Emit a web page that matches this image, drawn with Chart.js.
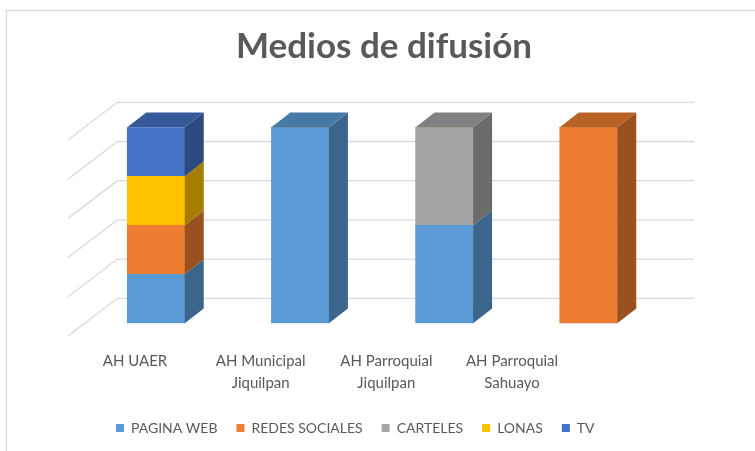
<!DOCTYPE html>
<html><head><meta charset="utf-8">
<script src="https://cdn.jsdelivr.net/npm/chart.js@4.4.1/dist/chart.umd.min.js"></script>
<style>html,body{margin:0;padding:0;background:#fff;} #wrap{width:755px;height:451px;}</style>
</head><body><div id="wrap"><canvas id="c" width="755" height="451"></canvas></div>
<script>
// ---- data ----
const chartTitle = 'Medios de difusión';
const categories = [['AH UAER'], ['AH Municipal', 'Jiquilpan'], ['AH Parroquial', 'Jiquilpan'], ['AH Parroquial', 'Sahuayo']];
const seriesNames = ['PAGINA WEB', 'REDES SOCIALES', 'CARTELES', 'LONAS', 'TV'];
const paginaWeb = [25, 100, 50, 0];
const redesSociales = [25, 0, 0, 100];
const carteles = [0, 0, 50, 0];
const lonas = [25, 0, 0, 0];
const tv = [25, 0, 0, 0];
const yTickValues = [0, 20, 40, 60, 80, 100];
const seriesColors = ['#5B9BD5', '#ED7D31', '#A5A5A5', '#FFC000', '#4472C4'];

// ---- 3D look ----
const BAR_DEPTH = {dx: 19, dy: -14.7};
const WALL = {dx: 33.5, dy: -25};
const FLOOR_FRONT = {dx: -16, dy: 12.7};
const GRID_COLOR = '#D9D9D9';
const TEXT_COLOR = '#595959';

function shade(hex, f) {
  const n = parseInt(hex.slice(1), 16);
  const r = Math.round(((n >> 16) & 255) * f), g = Math.round(((n >> 8) & 255) * f), b = Math.round((n & 255) * f);
  return 'rgb(' + r + ',' + g + ',' + b + ')';
}

const allSeries = [paginaWeb, redesSociales, carteles, lonas, tv];
const datasets = allSeries.map((vals, d) => ({
  label: seriesNames[d],
  data: vals.map((v, i) => ({x: i, y: v})),
  backgroundColor: seriesColors[d],
  borderWidth: 0,
  barThickness: 57.5
}));

const bgPlugin = {
  id: 'bg',
  beforeDraw(chart) {
    const ctx = chart.ctx;
    ctx.save();
    ctx.fillStyle = '#fff';
    ctx.fillRect(0, 0, chart.width, chart.height);
    ctx.strokeStyle = GRID_COLOR;
    ctx.lineWidth = 1.3;
    ctx.strokeRect(6.5, 10.5, 900, 600);
    ctx.restore();
  }
};

const wallPlugin = {
  id: 'wall',
  beforeDatasetsDraw(chart) {
    const ctx = chart.ctx, xs = chart.scales.x, ys = chart.scales.y;
    const xl = xs.getPixelForValue(-0.5), xr = xs.getPixelForValue(categories.length - 0.5);
    ctx.save();
    ctx.strokeStyle = GRID_COLOR;
    ctx.lineWidth = 1.3;
    ys.ticks.forEach(t => {
      const y = ys.getPixelForValue(t.value);
      ctx.beginPath();
      ctx.moveTo(xl + FLOOR_FRONT.dx, y + FLOOR_FRONT.dy);
      ctx.lineTo(xl + WALL.dx, y + WALL.dy);
      ctx.lineTo(xr + WALL.dx, y + WALL.dy);
      ctx.stroke();
    });
    ctx.restore();
  }
};

const depthPlugin = {
  id: 'depth',
  afterDatasetsDraw(chart) {
    const ctx = chart.ctx;
    ctx.save();
    categories.forEach((c, i) => {
      let top = -1;
      allSeries.forEach((vals, d) => { if (vals[i] > 0) top = d; });
      allSeries.forEach((vals, d) => {
        if (!(vals[i] > 0)) return;
        const el = chart.getDatasetMeta(d).data[i];
        const p = el.getProps(['x', 'y', 'base', 'width'], true);
        const x0 = p.x - p.width / 2, x1 = p.x + p.width / 2;
        const yt = Math.min(p.y, p.base), yb = Math.max(p.y, p.base);
        ctx.fillStyle = shade(seriesColors[d], 0.65);
        ctx.beginPath();
        ctx.moveTo(x1, yt);
        ctx.lineTo(x1 + BAR_DEPTH.dx, yt + BAR_DEPTH.dy);
        ctx.lineTo(x1 + BAR_DEPTH.dx, yb + BAR_DEPTH.dy);
        ctx.lineTo(x1, yb);
        ctx.closePath();
        ctx.fill();
        if (d === top) {
          ctx.fillStyle = shade(seriesColors[d], 0.78);
          ctx.beginPath();
          ctx.moveTo(x0, yt);
          ctx.lineTo(x1, yt);
          ctx.lineTo(x1 + BAR_DEPTH.dx, yt + BAR_DEPTH.dy);
          ctx.lineTo(x0 + BAR_DEPTH.dx, yt + BAR_DEPTH.dy);
          ctx.closePath();
          ctx.fill();
        }
      });
    });
    ctx.restore();
  }
};

const indexTicks = s => { s.ticks = categories.map((c, i) => ({value: i})); };

new Chart(document.getElementById('c'), {
  type: 'bar',
  data: {datasets},
  options: {
    responsive: false,
    animation: false,
    layout: {padding: {left: 97, right: 84, top: 0, bottom: 6}},
    scales: {
      x: {
        type: 'linear', display: false, stacked: true, offset: false,
        min: -0.4092, max: 3.5722, afterBuildTicks: indexTicks
      },
      xl: {
        type: 'linear', position: 'bottom', offset: false, min: -0.3024, max: 4.2651,
        grid: {display: false, drawTicks: false}, border: {display: false},
        afterBuildTicks: indexTicks,
        afterFit: s => { s.height = 78.7; s.paddingLeft = 0; s.paddingRight = 0; },
        ticks: {
          padding: 26.4, autoSkip: false, maxRotation: 0, minRotation: 0, color: TEXT_COLOR,
          font: {family: 'Lato', size: 15, lineHeight: 22 / 15},
          callback: v => categories[v]
        }
      },
      y: {
        display: false, stacked: true, min: 0, max: 100,
        afterBuildTicks: s => { s.ticks = yTickValues.map(v => ({value: v})); }
      }
    },
    plugins: {
      title: {
        display: true, text: chartTitle, color: TEXT_COLOR,
        font: {family: 'Lato', size: 35, weight: 'bold', lineHeight: 1.2},
        padding: {top: 25.5, bottom: 59.8}
      },
      legend: {
        position: 'bottom', align: 'start',
        labels: {boxWidth: 8, boxHeight: 8, padding: 19, color: TEXT_COLOR, font: {family: 'Lato', size: 14}}
      },
      tooltip: {enabled: false}
    }
  },
  plugins: [bgPlugin, wallPlugin, depthPlugin]
});
</script>
</body></html>
